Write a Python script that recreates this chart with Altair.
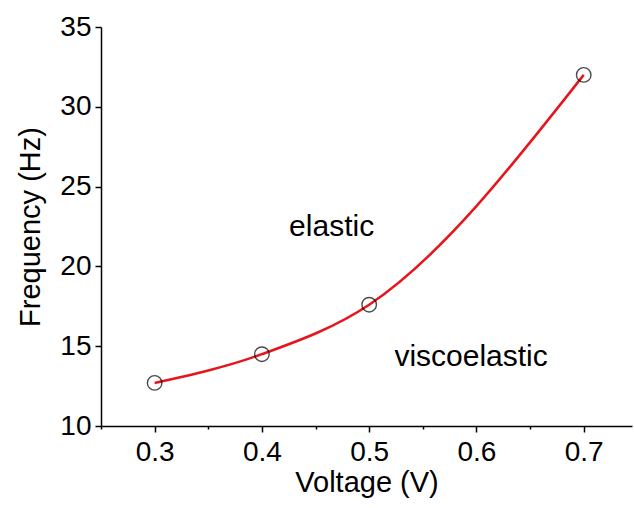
import altair as alt
import pandas as pd

voltage = [0.3, 0.4, 0.5, 0.7]
frequency = [12.7, 14.5, 17.6, 32.0]

label_text = ["elastic", "viscoelastic"]
label_x = [0.465, 0.595]
label_y = [22.5, 14.3]

x_ticks = [0.25, 0.3, 0.35, 0.4, 0.45, 0.5, 0.55, 0.6, 0.65, 0.7]
y_ticks = [10, 12.5, 15, 17.5, 20, 22.5, 25, 27.5, 30, 32.5, 35]

df = pd.DataFrame({"V": voltage, "F": frequency})
lab = pd.DataFrame({"t": label_text, "x": label_x, "y": label_y})

FONT = "Liberation Sans"

x_scale = alt.Scale(domain=[0.25, 0.745], nice=False, zero=False)
y_scale = alt.Scale(domain=[10, 35], nice=False, zero=False)

x_axis = alt.Axis(
    title="Voltage (V)", values=x_ticks, grid=False,
    labelExpr="abs(datum.value*10 - round(datum.value*10)) < 0.01 ? format(datum.value, '.1f') : ''",
    tickSize={"condition": {"test": "abs(datum.value*10 - round(datum.value*10)) < 0.01", "value": 6}, "value": 3},
    domainColor="black", tickColor="black", domainWidth=1.5, tickWidth=1.5,
    labelFont=FONT, labelFontSize=28, labelColor="black", labelPadding=6,
    titleFont=FONT, titleFontSize=29, titleFontWeight="normal", titleColor="black", titlePadding=2,
)
y_axis = alt.Axis(
    title="Frequency (Hz)", values=y_ticks, grid=False,
    labelExpr="datum.value % 5 === 0 ? format(datum.value, 'd') : ''",
    tickSize={"condition": {"test": "datum.value % 5 === 0", "value": 6}, "value": 3},
    domainColor="black", tickColor="black", domainWidth=1.5, tickWidth=1.5,
    labelFont=FONT, labelFontSize=28, labelColor="black", labelPadding=4,
    titleFont=FONT, titleFontSize=29, titleFontWeight="normal", titleColor="black", titlePadding=14,
)

base = alt.Chart(df)

line = base.mark_line(interpolate="monotone", color="#e8141c", strokeWidth=2.5).encode(
    x=alt.X("V:Q", scale=x_scale, axis=x_axis),
    y=alt.Y("F:Q", scale=y_scale, axis=y_axis),
)
pts = base.mark_point(shape="circle", filled=False, color="black", size=210, strokeWidth=1.4).encode(
    x=alt.X("V:Q", scale=x_scale),
    y=alt.Y("F:Q", scale=y_scale),
)
txt = alt.Chart(lab).mark_text(font=FONT, fontSize=30, color="black").encode(
    x=alt.X("x:Q", scale=x_scale),
    y=alt.Y("y:Q", scale=y_scale),
    text="t:N",
)

chart = (line + pts + txt).properties(
    width=531, height=399,
    autosize=alt.AutoSizeParams(type="none"),
    padding={"left": 101, "top": 27, "right": 2, "bottom": 82},
).configure_view(stroke=None)

chart.save("out.html", embed_options={"renderer": "svg", "actions": False})
